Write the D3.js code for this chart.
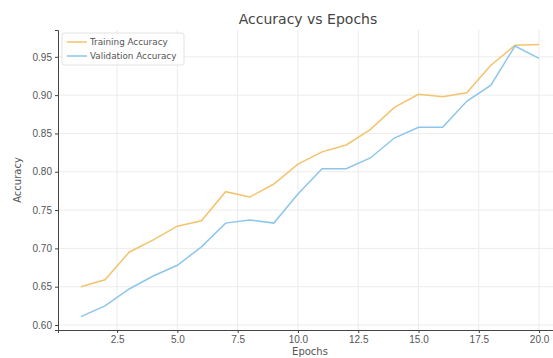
<!DOCTYPE html>
<meta charset="utf-8">
<head>
<style>
  body { margin: 0; background: #fff; }
  svg { font-family: "DejaVu Sans", sans-serif; }
  .axis text { font-size: 10px; fill: #555; }
  .axis path, .axis line { stroke: #444; }
  .grid line { stroke: #ececec; }
</style>
</head>
<body>
<script src="https://d3js.org/d3.v7.min.js"></script>
<script>
// data
var epochs = d3.range(1, 21);
var trainAcc = [0.650, 0.659, 0.695, 0.711, 0.729, 0.736, 0.774, 0.767, 0.784, 0.810,
                0.826, 0.835, 0.855, 0.884, 0.901, 0.898, 0.903, 0.939, 0.965, 0.966];
var valAcc = [0.611, 0.625, 0.647, 0.664, 0.678, 0.702, 0.733, 0.737, 0.733, 0.771,
              0.804, 0.804, 0.818, 0.844, 0.858, 0.858, 0.892, 0.913, 0.964, 0.948];
var xTicks = [2.5, 5.0, 7.5, 10.0, 12.5, 15.0, 17.5, 20.0];
var yTicks = [0.60, 0.65, 0.70, 0.75, 0.80, 0.85, 0.90, 0.95];
var seriesNames = ["Training Accuracy", "Validation Accuracy"];
var colors = ["#f3c36d", "#8dc6ea"];

//Set size parameters (plot area runs past the right edge like the original)
var width = 553, height = 358;
var margin = { top: 30, left: 58, right: 562, bottom: 330 };

var svg = d3.select("body").append("svg")
    .attr("width", width)
    .attr("height", height);

var x = d3.scaleLinear().domain([0.05, 20.95]).range([margin.left, margin.right]);
var y = d3.scaleLinear().domain([0.5935, 0.985]).range([margin.bottom, margin.top]);

//grid
svg.append("g").attr("class", "grid")
    .selectAll("line").data(xTicks).enter().append("line")
    .attr("x1", d => x(d)).attr("x2", d => x(d))
    .attr("y1", margin.top).attr("y2", margin.bottom);
svg.append("g").attr("class", "grid")
    .selectAll("line").data(yTicks).enter().append("line")
    .attr("x1", margin.left).attr("x2", margin.right)
    .attr("y1", d => y(d)).attr("y2", d => y(d));

//axes
svg.append("g")
    .attr("class", "axis")
    .attr("transform", "translate(0," + margin.bottom + ")")
    .call(d3.axisBottom(x).tickValues(xTicks).tickFormat(d3.format(".1f")).tickSize(3).tickPadding(3));
svg.append("g")
    .attr("class", "axis")
    .attr("transform", "translate(" + margin.left + ",0)")
    .call(d3.axisLeft(y).tickValues(yTicks).tickFormat(d3.format(".2f")).tickSize(3).tickPadding(3));

//lines
var line = d3.line().x((d, i) => x(epochs[i])).y(d => y(d));
[trainAcc, valAcc].forEach(function(s, k) {
    svg.append("path")
        .datum(s)
        .attr("fill", "none")
        .attr("stroke", colors[k])
        .attr("stroke-width", 1.5)
        .attr("d", line);
});

//title and labels
var cx = (margin.left + margin.right) / 2;
svg.append("text")
    .attr("x", cx - 2).attr("y", 24)
    .attr("text-anchor", "middle")
    .style("font-size", "14px").style("fill", "#444")
    .text("Accuracy vs Epochs");
svg.append("text")
    .attr("x", cx).attr("y", 355)
    .attr("text-anchor", "middle")
    .style("font-size", "10px").style("fill", "#555")
    .text("Epochs");
svg.append("text")
    .attr("transform", "translate(21," + ((margin.top + margin.bottom) / 2) + ") rotate(-90)")
    .attr("text-anchor", "middle")
    .style("font-size", "10px").style("fill", "#555")
    .text("Accuracy");

//legend
var lg = svg.append("g").attr("transform", "translate(62,33)");
lg.append("rect")
    .attr("width", 122).attr("height", 32).attr("rx", 2)
    .attr("fill", "#fff").attr("fill-opacity", 0.8)
    .attr("stroke", "#e2e2e2");
seriesNames.forEach(function(n, i) {
    lg.append("line")
        .attr("x1", 5).attr("x2", 25)
        .attr("y1", 9 + i * 14).attr("y2", 9 + i * 14)
        .attr("stroke", colors[i]).attr("stroke-width", 1.5);
    lg.append("text")
        .attr("x", 28).attr("y", 12 + i * 14)
        .style("font-size", "8.8px").style("fill", "#555")
        .text(n);
});
</script>
</body>
